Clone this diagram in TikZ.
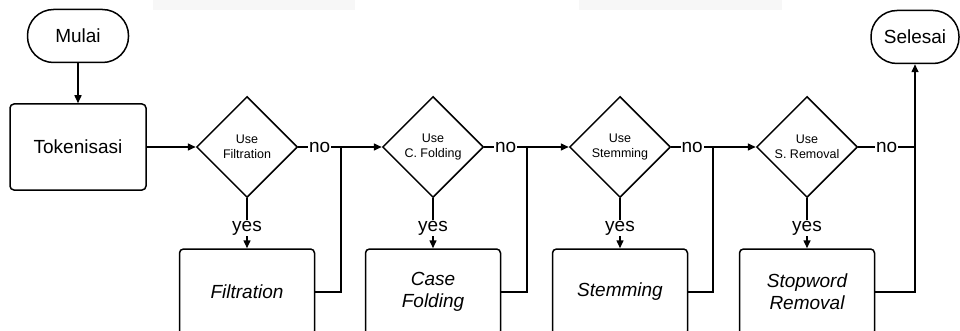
\documentclass[tikz,border=0pt]{standalone}
\usepackage{fontspec}
\setmainfont{Liberation Sans}
\usetikzlibrary{shapes.geometric, arrows.meta}

\begin{document}
\begin{tikzpicture}[x=1pt, y=-1pt, line width=1.5pt, >={Triangle[length=8pt,width=7pt]},
    terminal/.style={draw, rounded corners=26pt, minimum width=101pt, minimum height=53pt, font=\fontsize{19}{22}\selectfont},
    process/.style={draw, rounded corners=4pt, minimum width=135pt, minimum height=86pt, align=center, font=\fontsize{19}{22}\selectfont},
    stage/.style={process, font=\fontsize{19}{22}\selectfont\itshape},
    decision/.style={draw, diamond, aspect=1, minimum width=101pt, minimum height=101pt, inner sep=0pt, align=center, font=\fontsize{12.5}{15}\selectfont},
    answer/.style={fill=white, inner sep=1pt, font=\fontsize{19}{22}\selectfont}]
        \useasboundingbox (0,0) rectangle (960,331);
        \fill[gray!6] (153,0) rectangle (355,10);
        \fill[gray!6] (579,0) rectangle (782,10);
        \node[terminal] (mulai) at (78,36) {Mulai};
        \node[process, minimum width=136pt] (token) at (78,147) {Tokenisasi};
        \node[terminal, minimum width=88pt] (selesai) at (915,37) {Selesai};
        \foreach \i/\X/\J/\T/\P in {1/247/341/Filtration/Filtration, 2/433/527/C. Folding/Case\\Folding,
            3/620/713/Stemming/Stemming, 4/807/915/S. Removal/Stopword\\Removal} {
          \node[decision] (d\i) at (\X, 147) {Use\\\T};
          \node[stage] (p\i) at (\X, 292) {\P};
          \coordinate (j\i) at (\J, 147);
          \draw (d\i.east) -- node[answer] {no} (j\i);
          \draw[->] (d\i.south) -- node[answer, pos=0.6] {yes} (p\i.north);
          \draw (p\i.east) -| (j\i);
        }
        \draw[->] (mulai) -- (token);
        \draw[->] (token) -- (d1.west);
        \draw[->] (j1) -- (d2.west);
        \draw[->] (j2) -- (d3.west);
        \draw[->] (j3) -- (d4.west);
        \draw[->] (j4) -- (selesai.south);
      \end{tikzpicture}
\end{document}
